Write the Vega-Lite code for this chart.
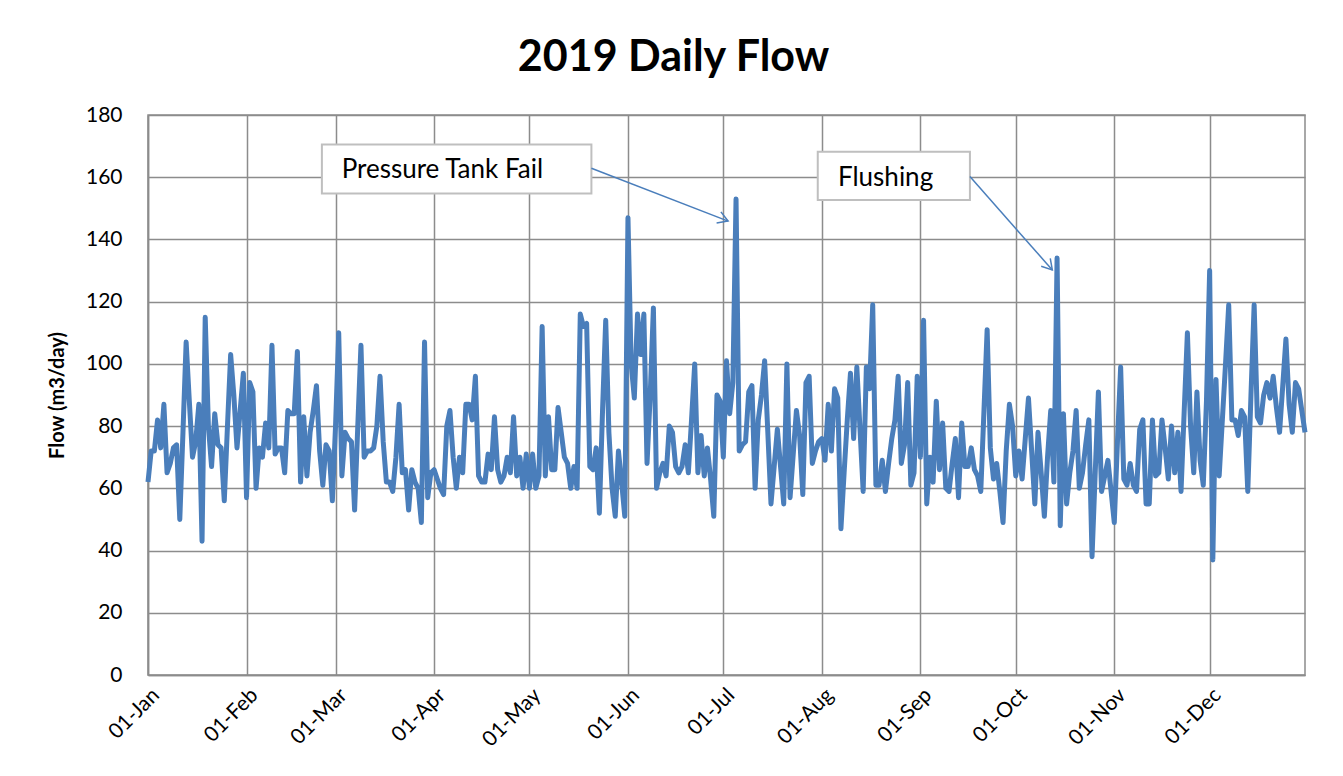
{
"$schema": "https://vega.github.io/schema/vega-lite/v6.json",
"width": 1157, "height": 560,
"autosize": {"type": "none"},
"padding": {"left": 148, "top": 115, "right": 38, "bottom": 101},
"background": "white",
"title": {"text": "2019 Daily Flow", "font": "Lato", "fontSize": 43, "fontWeight": "bold", "color": "black", "anchor": "middle", "offset": 24, "dx": -53},
"config": {"view": {"stroke": "#8c8c8c", "strokeWidth": 1.5}, "font": "Lato"},
"datasets": {
"flow": [
{"date":"2019-01-01","flow":62},{"date":"2019-01-02","flow":72},{"date":"2019-01-03","flow":72},{"date":"2019-01-04","flow":82},{"date":"2019-01-05","flow":73},{"date":"2019-01-06","flow":87},{"date":"2019-01-07","flow":65},{"date":"2019-01-08","flow":68},{"date":"2019-01-09","flow":73},{"date":"2019-01-10","flow":74},{"date":"2019-01-11","flow":50},{"date":"2019-01-12","flow":78},{"date":"2019-01-13","flow":107},{"date":"2019-01-14","flow":88},{"date":"2019-01-15","flow":70},{"date":"2019-01-16","flow":75},{"date":"2019-01-17","flow":87},{"date":"2019-01-18","flow":43},{"date":"2019-01-19","flow":115},{"date":"2019-01-20","flow":80},{"date":"2019-01-21","flow":67},{"date":"2019-01-22","flow":84},{"date":"2019-01-23","flow":74},{"date":"2019-01-24","flow":73},{"date":"2019-01-25","flow":56},{"date":"2019-01-26","flow":80},{"date":"2019-01-27","flow":103},{"date":"2019-01-28","flow":90},{"date":"2019-01-29","flow":73},{"date":"2019-01-30","flow":85},{"date":"2019-01-31","flow":97},
{"date":"2019-02-01","flow":57},{"date":"2019-02-02","flow":94},{"date":"2019-02-03","flow":91},{"date":"2019-02-04","flow":60},{"date":"2019-02-05","flow":73},{"date":"2019-02-06","flow":70},{"date":"2019-02-07","flow":81},{"date":"2019-02-08","flow":73},{"date":"2019-02-09","flow":106},{"date":"2019-02-10","flow":71},{"date":"2019-02-11","flow":73},{"date":"2019-02-12","flow":73},{"date":"2019-02-13","flow":65},{"date":"2019-02-14","flow":85},{"date":"2019-02-15","flow":84},{"date":"2019-02-16","flow":84},{"date":"2019-02-17","flow":104},{"date":"2019-02-18","flow":62},{"date":"2019-02-19","flow":83},{"date":"2019-02-20","flow":64},{"date":"2019-02-21","flow":78},{"date":"2019-02-22","flow":85},{"date":"2019-02-23","flow":93},{"date":"2019-02-24","flow":72},{"date":"2019-02-25","flow":61},{"date":"2019-02-26","flow":74},{"date":"2019-02-27","flow":72},{"date":"2019-02-28","flow":56},
{"date":"2019-03-01","flow":80},{"date":"2019-03-02","flow":110},{"date":"2019-03-03","flow":64},{"date":"2019-03-04","flow":78},{"date":"2019-03-05","flow":76},{"date":"2019-03-06","flow":75},{"date":"2019-03-07","flow":53},{"date":"2019-03-08","flow":80},{"date":"2019-03-09","flow":106},{"date":"2019-03-10","flow":70},{"date":"2019-03-11","flow":72},{"date":"2019-03-12","flow":72},{"date":"2019-03-13","flow":73},{"date":"2019-03-14","flow":80},{"date":"2019-03-15","flow":96},{"date":"2019-03-16","flow":75},{"date":"2019-03-17","flow":62},{"date":"2019-03-18","flow":62},{"date":"2019-03-19","flow":59},{"date":"2019-03-20","flow":70},{"date":"2019-03-21","flow":87},{"date":"2019-03-22","flow":65},{"date":"2019-03-23","flow":66},{"date":"2019-03-24","flow":53},{"date":"2019-03-25","flow":66},{"date":"2019-03-26","flow":62},{"date":"2019-03-27","flow":60},{"date":"2019-03-28","flow":49},{"date":"2019-03-29","flow":107},{"date":"2019-03-30","flow":57},{"date":"2019-03-31","flow":65},
{"date":"2019-04-01","flow":66},{"date":"2019-04-02","flow":63},{"date":"2019-04-03","flow":60},{"date":"2019-04-04","flow":58},{"date":"2019-04-05","flow":80},{"date":"2019-04-06","flow":85},{"date":"2019-04-07","flow":70},{"date":"2019-04-08","flow":60},{"date":"2019-04-09","flow":70},{"date":"2019-04-10","flow":65},{"date":"2019-04-11","flow":87},{"date":"2019-04-12","flow":87},{"date":"2019-04-13","flow":82},{"date":"2019-04-14","flow":96},{"date":"2019-04-15","flow":64},{"date":"2019-04-16","flow":62},{"date":"2019-04-17","flow":62},{"date":"2019-04-18","flow":71},{"date":"2019-04-19","flow":66},{"date":"2019-04-20","flow":83},{"date":"2019-04-21","flow":66},{"date":"2019-04-22","flow":62},{"date":"2019-04-23","flow":64},{"date":"2019-04-24","flow":70},{"date":"2019-04-25","flow":65},{"date":"2019-04-26","flow":83},{"date":"2019-04-27","flow":64},{"date":"2019-04-28","flow":70},{"date":"2019-04-29","flow":60},{"date":"2019-04-30","flow":71},
{"date":"2019-05-01","flow":60},{"date":"2019-05-02","flow":71},{"date":"2019-05-03","flow":60},{"date":"2019-05-04","flow":64},{"date":"2019-05-05","flow":112},{"date":"2019-05-06","flow":64},{"date":"2019-05-07","flow":83},{"date":"2019-05-08","flow":66},{"date":"2019-05-09","flow":66},{"date":"2019-05-10","flow":86},{"date":"2019-05-11","flow":78},{"date":"2019-05-12","flow":70},{"date":"2019-05-13","flow":68},{"date":"2019-05-14","flow":60},{"date":"2019-05-15","flow":67},{"date":"2019-05-16","flow":60},{"date":"2019-05-17","flow":116},{"date":"2019-05-18","flow":112},{"date":"2019-05-19","flow":113},{"date":"2019-05-20","flow":67},{"date":"2019-05-21","flow":66},{"date":"2019-05-22","flow":73},{"date":"2019-05-23","flow":52},{"date":"2019-05-24","flow":85},{"date":"2019-05-25","flow":114},{"date":"2019-05-26","flow":78},{"date":"2019-05-27","flow":60},{"date":"2019-05-28","flow":51},{"date":"2019-05-29","flow":72},{"date":"2019-05-30","flow":62},{"date":"2019-05-31","flow":51},
{"date":"2019-06-01","flow":147},{"date":"2019-06-02","flow":100},{"date":"2019-06-03","flow":89},{"date":"2019-06-04","flow":116},{"date":"2019-06-05","flow":103},{"date":"2019-06-06","flow":116},{"date":"2019-06-07","flow":68},{"date":"2019-06-08","flow":90},{"date":"2019-06-09","flow":118},{"date":"2019-06-10","flow":60},{"date":"2019-06-11","flow":65},{"date":"2019-06-12","flow":68},{"date":"2019-06-13","flow":64},{"date":"2019-06-14","flow":80},{"date":"2019-06-15","flow":78},{"date":"2019-06-16","flow":67},{"date":"2019-06-17","flow":65},{"date":"2019-06-18","flow":67},{"date":"2019-06-19","flow":74},{"date":"2019-06-20","flow":65},{"date":"2019-06-21","flow":82},{"date":"2019-06-22","flow":100},{"date":"2019-06-23","flow":65},{"date":"2019-06-24","flow":77},{"date":"2019-06-25","flow":64},{"date":"2019-06-26","flow":73},{"date":"2019-06-27","flow":63},{"date":"2019-06-28","flow":51},{"date":"2019-06-29","flow":90},{"date":"2019-06-30","flow":88},
{"date":"2019-07-01","flow":70},{"date":"2019-07-02","flow":101},{"date":"2019-07-03","flow":84},{"date":"2019-07-04","flow":94},{"date":"2019-07-05","flow":153},{"date":"2019-07-06","flow":72},{"date":"2019-07-07","flow":74},{"date":"2019-07-08","flow":75},{"date":"2019-07-09","flow":91},{"date":"2019-07-10","flow":93},{"date":"2019-07-11","flow":60},{"date":"2019-07-12","flow":82},{"date":"2019-07-13","flow":90},{"date":"2019-07-14","flow":101},{"date":"2019-07-15","flow":78},{"date":"2019-07-16","flow":55},{"date":"2019-07-17","flow":67},{"date":"2019-07-18","flow":79},{"date":"2019-07-19","flow":67},{"date":"2019-07-20","flow":55},{"date":"2019-07-21","flow":100},{"date":"2019-07-22","flow":57},{"date":"2019-07-23","flow":71},{"date":"2019-07-24","flow":85},{"date":"2019-07-25","flow":77},{"date":"2019-07-26","flow":58},{"date":"2019-07-27","flow":94},{"date":"2019-07-28","flow":96},{"date":"2019-07-29","flow":68},{"date":"2019-07-30","flow":72},{"date":"2019-07-31","flow":75},
{"date":"2019-08-01","flow":76},{"date":"2019-08-02","flow":69},{"date":"2019-08-03","flow":87},{"date":"2019-08-04","flow":72},{"date":"2019-08-05","flow":92},{"date":"2019-08-06","flow":89},{"date":"2019-08-07","flow":47},{"date":"2019-08-08","flow":65},{"date":"2019-08-09","flow":82},{"date":"2019-08-10","flow":97},{"date":"2019-08-11","flow":76},{"date":"2019-08-12","flow":99},{"date":"2019-08-13","flow":79},{"date":"2019-08-14","flow":59},{"date":"2019-08-15","flow":99},{"date":"2019-08-16","flow":92},{"date":"2019-08-17","flow":119},{"date":"2019-08-18","flow":61},{"date":"2019-08-19","flow":61},{"date":"2019-08-20","flow":69},{"date":"2019-08-21","flow":59},{"date":"2019-08-22","flow":68},{"date":"2019-08-23","flow":76},{"date":"2019-08-24","flow":82},{"date":"2019-08-25","flow":96},{"date":"2019-08-26","flow":68},{"date":"2019-08-27","flow":74},{"date":"2019-08-28","flow":94},{"date":"2019-08-29","flow":61},{"date":"2019-08-30","flow":65},{"date":"2019-08-31","flow":96},
{"date":"2019-09-01","flow":70},{"date":"2019-09-02","flow":114},{"date":"2019-09-03","flow":55},{"date":"2019-09-04","flow":70},{"date":"2019-09-05","flow":62},{"date":"2019-09-06","flow":88},{"date":"2019-09-07","flow":66},{"date":"2019-09-08","flow":81},{"date":"2019-09-09","flow":60},{"date":"2019-09-10","flow":59},{"date":"2019-09-11","flow":68},{"date":"2019-09-12","flow":76},{"date":"2019-09-13","flow":57},{"date":"2019-09-14","flow":81},{"date":"2019-09-15","flow":67},{"date":"2019-09-16","flow":67},{"date":"2019-09-17","flow":73},{"date":"2019-09-18","flow":66},{"date":"2019-09-19","flow":64},{"date":"2019-09-20","flow":59},{"date":"2019-09-21","flow":85},{"date":"2019-09-22","flow":111},{"date":"2019-09-23","flow":73},{"date":"2019-09-24","flow":63},{"date":"2019-09-25","flow":68},{"date":"2019-09-26","flow":59},{"date":"2019-09-27","flow":49},{"date":"2019-09-28","flow":72},{"date":"2019-09-29","flow":87},{"date":"2019-09-30","flow":80},
{"date":"2019-10-01","flow":64},{"date":"2019-10-02","flow":72},{"date":"2019-10-03","flow":63},{"date":"2019-10-04","flow":76},{"date":"2019-10-05","flow":89},{"date":"2019-10-06","flow":72},{"date":"2019-10-07","flow":55},{"date":"2019-10-08","flow":78},{"date":"2019-10-09","flow":65},{"date":"2019-10-10","flow":51},{"date":"2019-10-11","flow":70},{"date":"2019-10-12","flow":85},{"date":"2019-10-13","flow":62},{"date":"2019-10-14","flow":134},{"date":"2019-10-15","flow":48},{"date":"2019-10-16","flow":84},{"date":"2019-10-17","flow":55},{"date":"2019-10-18","flow":65},{"date":"2019-10-19","flow":72},{"date":"2019-10-20","flow":85},{"date":"2019-10-21","flow":60},{"date":"2019-10-22","flow":65},{"date":"2019-10-23","flow":74},{"date":"2019-10-24","flow":82},{"date":"2019-10-25","flow":38},{"date":"2019-10-26","flow":65},{"date":"2019-10-27","flow":91},{"date":"2019-10-28","flow":59},{"date":"2019-10-29","flow":64},{"date":"2019-10-30","flow":69},{"date":"2019-10-31","flow":59},
{"date":"2019-11-01","flow":49},{"date":"2019-11-02","flow":75},{"date":"2019-11-03","flow":99},{"date":"2019-11-04","flow":63},{"date":"2019-11-05","flow":61},{"date":"2019-11-06","flow":68},{"date":"2019-11-07","flow":61},{"date":"2019-11-08","flow":59},{"date":"2019-11-09","flow":79},{"date":"2019-11-10","flow":82},{"date":"2019-11-11","flow":55},{"date":"2019-11-12","flow":55},{"date":"2019-11-13","flow":82},{"date":"2019-11-14","flow":64},{"date":"2019-11-15","flow":65},{"date":"2019-11-16","flow":82},{"date":"2019-11-17","flow":73},{"date":"2019-11-18","flow":63},{"date":"2019-11-19","flow":80},{"date":"2019-11-20","flow":65},{"date":"2019-11-21","flow":78},{"date":"2019-11-22","flow":59},{"date":"2019-11-23","flow":85},{"date":"2019-11-24","flow":110},{"date":"2019-11-25","flow":80},{"date":"2019-11-26","flow":65},{"date":"2019-11-27","flow":91},{"date":"2019-11-28","flow":69},{"date":"2019-11-29","flow":61},{"date":"2019-11-30","flow":88},
{"date":"2019-12-01","flow":130},{"date":"2019-12-02","flow":37},{"date":"2019-12-03","flow":95},{"date":"2019-12-04","flow":64},{"date":"2019-12-05","flow":82},{"date":"2019-12-06","flow":100},{"date":"2019-12-07","flow":119},{"date":"2019-12-08","flow":82},{"date":"2019-12-09","flow":82},{"date":"2019-12-10","flow":77},{"date":"2019-12-11","flow":85},{"date":"2019-12-12","flow":83},{"date":"2019-12-13","flow":59},{"date":"2019-12-14","flow":90},{"date":"2019-12-15","flow":119},{"date":"2019-12-16","flow":83},{"date":"2019-12-17","flow":81},{"date":"2019-12-18","flow":90},{"date":"2019-12-19","flow":94},{"date":"2019-12-20","flow":89},{"date":"2019-12-21","flow":96},{"date":"2019-12-22","flow":86},{"date":"2019-12-23","flow":78},{"date":"2019-12-24","flow":93},{"date":"2019-12-25","flow":108},{"date":"2019-12-26","flow":87},{"date":"2019-12-27","flow":78},{"date":"2019-12-28","flow":94},{"date":"2019-12-29","flow":92},{"date":"2019-12-30","flow":85},{"date":"2019-12-31","flow":78}
],
"boxes": [
{"date":"2019-02-24 17:00","date2":"2019-05-20 12:00","flow":170.5,"flow2":154.8},
{"date":"2019-07-30 17:00","date2":"2019-09-16 14:00","flow":168.2,"flow2":152.7}
],
"labels": [
{"date":"2019-03-02 22:00","flow":162.2,"label":"Pressure Tank Fail"},
{"date":"2019-08-06 02:00","flow":159.8,"label":"Flushing"}
],
"arrows": [
{"date":"2019-05-20 12:00","flow":162.9,"date2":"2019-07-02 12:00","flow2":145.9},
{"date":"2019-09-16 14:00","flow":160.2,"date2":"2019-10-12 12:00","flow2":130.2}
],
"tip1": [{"date":"2019-07-02 12:00","flow":145.9}],
"tip2": [{"date":"2019-10-12 12:00","flow":130.2}]
},
"layer": [
{
"data": {"name": "flow", "format": {"parse": {"date": "date:'%Y-%m-%d'"}}},
"mark": {"type": "line", "color": "#4a7ebb", "strokeWidth": 5, "strokeJoin": "round"},
"encoding": {
"x": {"field": "date", "type": "temporal",
"scale": {"domain": [{"year": 2019, "month": 1, "date": 1}, {"year": 2019, "month": 12, "date": 31}], "nice": false},
"axis": {"title": null, "format": "%d-%b", "labelAngle": -45, "tickCount": {"interval": "month", "step": 1}, "grid": true, "gridColor": "#8c8c8c", "gridWidth": 1.5, "domainColor": "#8c8c8c", "domainWidth": 1.5, "ticks": false, "labelFontSize": 21, "labelColor": "black", "labelFont": "Lato", "labelPadding": 9, "labelOverlap": false}},
"y": {"field": "flow", "type": "quantitative",
"scale": {"domain": [0, 180], "nice": false},
"axis": {"title": "Flow (m3/day)", "values": [0, 20, 40, 60, 80, 100, 120, 140, 160, 180], "grid": true, "gridColor": "#8c8c8c", "gridWidth": 1.5, "domainColor": "#8c8c8c", "domainWidth": 1.5, "ticks": false, "labelFontSize": 21, "labelColor": "black", "labelFont": "Lato", "labelPadding": 26, "titleFont": "Lato", "titleFontSize": 20, "titleFontWeight": "bold", "titleColor": "black", "titlePadding": 18}}
}
},
{
"data": {"name": "boxes", "format": {"parse": {"date": "date:'%Y-%m-%d %H:%M'", "date2": "date:'%Y-%m-%d %H:%M'"}}},
"mark": {"type": "rect", "fill": "white", "stroke": "#bfbfbf", "strokeWidth": 2},
"encoding": {
"x": {"field": "date", "type": "temporal"}, "x2": {"field": "date2"},
"y": {"field": "flow", "type": "quantitative"}, "y2": {"field": "flow2"}
}
},
{
"data": {"name": "labels", "format": {"parse": {"date": "date:'%Y-%m-%d %H:%M'"}}},
"mark": {"type": "text", "align": "left", "baseline": "middle", "font": "Lato", "fontSize": 26, "color": "black"},
"encoding": {
"x": {"field": "date", "type": "temporal"},
"y": {"field": "flow", "type": "quantitative"},
"text": {"field": "label"}
}
},
{
"data": {"name": "arrows", "format": {"parse": {"date": "date:'%Y-%m-%d %H:%M'", "date2": "date:'%Y-%m-%d %H:%M'"}}},
"mark": {"type": "rule", "color": "#4a7ebb", "strokeWidth": 1.5},
"encoding": {
"x": {"field": "date", "type": "temporal"}, "x2": {"field": "date2"},
"y": {"field": "flow", "type": "quantitative"}, "y2": {"field": "flow2"}
}
},
{
"data": {"name": "tip1", "format": {"parse": {"date": "date:'%Y-%m-%d %H:%M'"}}},
"mark": {"type": "point", "shape": "M -1 -0.6 L 0 0 L -1 0.6", "size": 400, "filled": false, "stroke": "#4a7ebb", "strokeWidth": 1.5, "angle": 21, "opacity": 1},
"encoding": {
"x": {"field": "date", "type": "temporal"},
"y": {"field": "flow", "type": "quantitative"}
}
},
{
"data": {"name": "tip2", "format": {"parse": {"date": "date:'%Y-%m-%d %H:%M'"}}},
"mark": {"type": "point", "shape": "M -1 -0.6 L 0 0 L -1 0.6", "size": 400, "filled": false, "stroke": "#4a7ebb", "strokeWidth": 1.5, "angle": 49, "opacity": 1},
"encoding": {
"x": {"field": "date", "type": "temporal"},
"y": {"field": "flow", "type": "quantitative"}
}
}
]
}
